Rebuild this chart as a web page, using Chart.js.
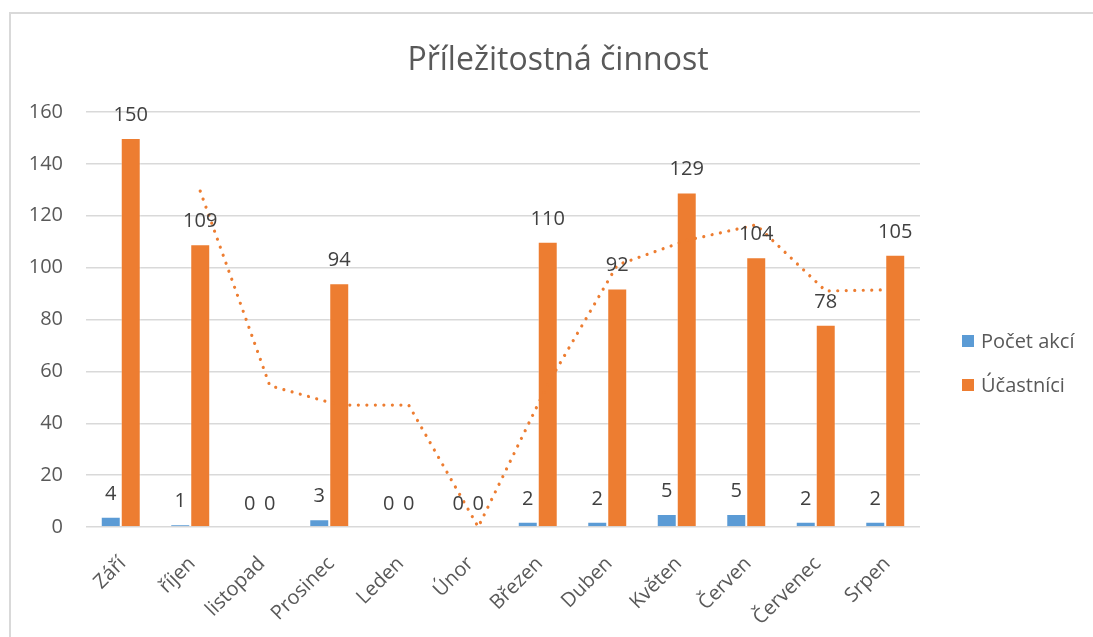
<!DOCTYPE html>
<html><head><meta charset="utf-8">
<script src="https://cdn.jsdelivr.net/npm/chart.js@4"></script>
<style>
html,body{margin:0;padding:0;background:#fff;}
#wrap{position:relative;width:1093px;height:637px;overflow:hidden;background:#fff;}
#frame{position:absolute;left:9px;top:12px;width:1200px;height:700px;border-left:2px solid #d9d9d9;border-top:2px solid #d9d9d9;}
canvas{position:absolute;left:0;top:0;}
</style></head><body>
<div id="wrap"><div id="frame"></div><canvas id="c" width="1093" height="637"></canvas></div>
<script>
const chartTitle = 'Příležitostná činnost';
const categories = ['Září','říjen','listopad','Prosinec','Leden','Únor','Březen','Duben','Květen','Červen','Červenec','Srpen'];
const seriesNames = ['Počet akcí','Účastníci'];
const pocetAkci = [4,1,0,3,0,0,2,2,5,5,2,2];
const ucastnici = [150,109,0,94,0,0,110,92,129,104,78,105];
const trendUcastnici = [null,129.5,54.5,47,47,0,55,101,110.5,116.5,91,91.5];
const yMin = 0, yMax = 160, yStep = 20;

const FONT = "'Open Sans', sans-serif";
const BLUE = '#5B9BD5', ORANGE = '#ED7D31';
const CAT_PCT = 0.575, BAR_PCT = 1;

const titlePlugin = {
  id: 'excelTitle',
  afterDraw(chart) {
    const ctx = chart.ctx;
    ctx.save();
    ctx.font = '32px ' + FONT;
    ctx.fillStyle = '#595959';
    ctx.textAlign = 'center';
    ctx.textBaseline = 'alphabetic';
    ctx.fillText(chartTitle, 558, 70);
    ctx.restore();
  }
};

// Excel draws the moving-average trendline over the Účastníci bars:
// align each line point with the orange bar of the same category.
const trendAlignPlugin = {
  id: 'trendAlign',
  afterDatasetsUpdate(chart) {
    const bars = chart.getDatasetMeta(1).data;
    const pts = chart.getDatasetMeta(2).data;
    pts.forEach((p, i) => { if (bars[i]) p.x = bars[i].x; });
    const line = chart.getDatasetMeta(2).dataset;
    if (line) { line._path = undefined; line.points = pts; }
  }
};

const labelsPlugin = {
  id: 'dataLabels',
  afterDatasetsDraw(chart) {
    const ctx = chart.ctx;
    ctx.save();
    ctx.font = '20px ' + FONT;
    ctx.fillStyle = '#404040';
    ctx.textAlign = 'center';
    ctx.textBaseline = 'alphabetic';
    [0, 1].forEach(di => {
      const meta = chart.getDatasetMeta(di);
      const vals = chart.data.datasets[di].data;
      meta.data.forEach((bar, i) => {
        ctx.fillText(String(vals[i]), bar.x, bar.y - 17);
      });
    });
    ctx.restore();
  }
};

const legendPlugin = {
  id: 'sideLegend',
  afterDraw(chart) {
    const ctx = chart.ctx;
    ctx.save();
    ctx.font = '20px ' + FONT;
    ctx.textAlign = 'left';
    ctx.textBaseline = 'middle';
    [0, 1].forEach((di, k) => {
      const ds = chart.data.datasets[di];
      const cy = 341 + k * 44;
      ctx.fillStyle = ds.backgroundColor;
      ctx.fillRect(962, cy - 6, 12, 12);
      ctx.fillStyle = '#595959';
      ctx.fillText(ds.label, 981, cy + 1);
    });
    ctx.restore();
  }
};

function draw() {
  new Chart(document.getElementById('c'), {
    type: 'bar',
    data: {
      labels: categories,
      datasets: [
        { label: seriesNames[0], data: pocetAkci, backgroundColor: BLUE, borderColor: 'rgba(255,255,255,0.35)', borderWidth: 1, categoryPercentage: CAT_PCT, barPercentage: BAR_PCT, order: 1 },
        { label: seriesNames[1], data: ucastnici, backgroundColor: ORANGE, borderColor: 'rgba(255,255,255,0.35)', borderWidth: 1, categoryPercentage: CAT_PCT, barPercentage: BAR_PCT, order: 1 },
        { type: 'line', label: 'trend', data: trendUcastnici,
          borderColor: ORANGE, borderWidth: 3.2, borderDash: [0.01, 8.5], borderCapStyle: 'round',
          pointRadius: 0, tension: 0, fill: false, spanGaps: true, order: 0 }
      ]
    },
    options: {
      responsive: false,
      animation: false,
      devicePixelRatio: 1,
      layout: { padding: { left: 0, right: 173, top: 112, bottom: 0 } },
      plugins: { legend: { display: false }, title: { display: false }, tooltip: { enabled: false } },
      scales: {
        x: {
          grid: { display: false, drawTicks: false },
          border: { display: false },
          ticks: { autoSkip: false, minRotation: 45, maxRotation: 45, padding: 25, labelOffset: 2, color: '#595959', font: { family: FONT, size: 20 } },
          afterFit(s) { s.height = 110; }
        },
        y: {
          min: yMin, max: yMax,
          ticks: { stepSize: yStep, padding: 23, color: '#595959', font: { family: FONT, size: 20 } },
          grid: { color: '#d9d9d9', lineWidth: 1.5, drawTicks: false },
          border: { display: false },
          afterFit(s) { s.width = 86; }
        }
      }
    },
    plugins: [trendAlignPlugin, titlePlugin, labelsPlugin, legendPlugin]
  });
}
Promise.all([document.fonts.load('20px "Open Sans"'), document.fonts.load('32px "Open Sans"')]).then(draw, draw);
</script>
</body></html>
